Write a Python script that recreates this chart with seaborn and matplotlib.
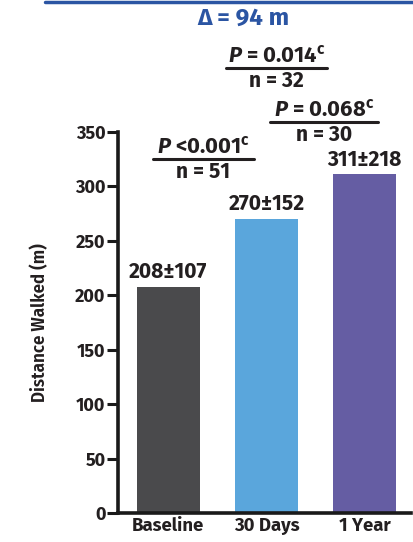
import matplotlib
matplotlib.use("Agg")
import matplotlib.pyplot as plt
import seaborn as sns
import pandas as pd

groups = ["Baseline", "30 Days", "1 Year"]
means = [208, 270, 311]
sds = [107, 152, 218]
bar_colors = ["#4a4a4c", "#5aa6dc", "#655da3"]
yticks = [0, 50, 100, 150, 200, 250, 300, 350]

# pairwise comparisons: P-value relation and number of paired patients
p_values = ["<0.001", "= 0.014", "= 0.068"]
n_values = ["51", "32", "30"]
delta_text = "94 m"

FONT = "Fira Sans"
sns.set_theme(style="white")
plt.rcParams["font.family"] = [FONT, "DejaVu Sans"]
plt.rcParams["mathtext.fontset"] = "custom"
plt.rcParams["mathtext.rm"] = FONT + ":bold"
plt.rcParams["mathtext.bf"] = FONT + ":bold"
plt.rcParams["mathtext.it"] = FONT + ":italic:bold"
plt.rcParams["mathtext.bfit"] = FONT + ":italic:bold"

df = pd.DataFrame({"group": groups, "mean": means})

fig = plt.figure(figsize=(4.13, 5.42), dpi=100)
ax = fig.add_axes([118 / 413, (542 - 513) / 542, (411 - 118) / 413, (513 - 132) / 542])

sns.barplot(data=df, x="group", y="mean", hue="group", palette=bar_colors,
            width=0.64, saturation=1, legend=False, ax=ax, edgecolor="none")

txtc = "#231f20"
ax.set_ylim(0, 350)
ax.set_xlim(-0.51, 2.47)
ax.set_yticks(yticks)
ax.set_yticklabels([str(t) for t in yticks], fontsize=13, fontweight="bold", color=txtc)
ax.set_xticks(range(len(groups)))
ax.set_xticklabels(groups, fontsize=13.3, fontweight="bold", color=txtc)
ax.set_xlabel("")
ax.set_ylabel("Distance Walked (m)", fontsize=13.5, fontweight="semibold", color=txtc,
              family=["Fira Sans Condensed", "DejaVu Sans"], labelpad=19)
for s in ["top", "right"]:
    ax.spines[s].set_visible(False)
for s in ["left", "bottom"]:
    ax.spines[s].set_linewidth(2.6)
    ax.spines[s].set_color("#1a1a1a")
ax.tick_params(axis="y", length=8, width=2.2, color="#1a1a1a", pad=1, direction="out", left=True)
ax.tick_params(axis="x", length=0, pad=3)

# value labels above each bar
for i, (m, s) in enumerate(zip(means, sds)):
    ax.text(i, m + 4, f"{m}\u00b1{s}", ha="center", va="bottom", fontsize=15.2,
            fontweight="bold", color=txtc, clip_on=False)


def comparison(xc, y_line, ptxt, ntxt, half):
    fig.text(xc / 413, 1 - (y_line - 1) / 542,
             r"$\mathbfit{P}$ " + ptxt + r"$^{\mathbf{c}}$",
             ha="center", va="bottom", fontsize=15.8, fontweight="bold", color=txtc)
    fig.add_artist(plt.Line2D([(xc - half) / 413, (xc + half) / 413],
                              [1 - y_line / 542, 1 - y_line / 542],
                              color=txtc, lw=2.2, transform=fig.transFigure))
    fig.text(xc / 413, 1 - (y_line + 2.5) / 542, "n = " + ntxt, ha="center", va="top",
             fontsize=15.2, fontweight="bold", color=txtc)


comparison(203.5, 159, p_values[0], n_values[0], 50.5)
comparison(276.5, 68, p_values[1], n_values[1], 50.5)
comparison(324, 122, p_values[2], n_values[2], 54)

# header rule and overall change
blue = "#2b55a3"
fig.add_artist(plt.Line2D([45 / 413, 1.0], [1 - 1.5 / 542, 1 - 1.5 / 542], color=blue, lw=2.5,
                          transform=fig.transFigure))
fig.text(243 / 413, 1 - 18 / 542, "\u0394 = " + delta_text, ha="center", va="center",
         fontsize=17.5, fontweight="bold", color=blue)

fig.savefig("out.png", dpi=100)
